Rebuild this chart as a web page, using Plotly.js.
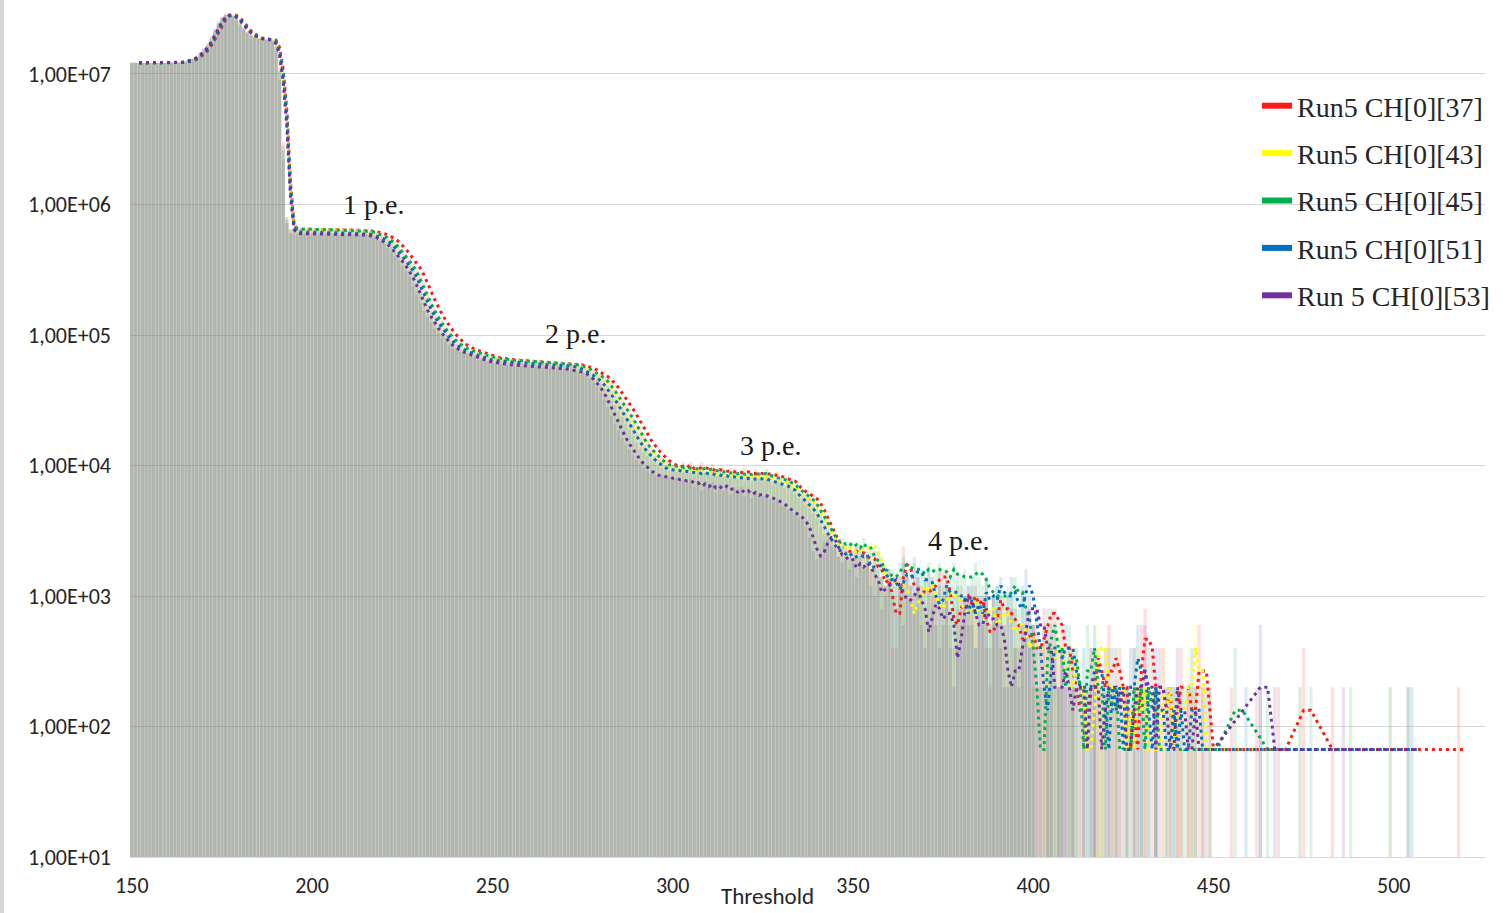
<!DOCTYPE html>
<html><head><meta charset="utf-8">
<script src="https://cdn.plot.ly/plotly-3.0.1.min.js"></script>
<style>html,body{margin:0;padding:0;background:#fff}#chart{width:1503px;height:913px}</style>
</head><body><div id="chart"></div>
<script>
// Threshold axis: one value per threshold step, starting at 150
const thresholdStart = 150;
const thresholdStep = 1;

const seriesNames = ['Run5 CH[0][37]', 'Run5 CH[0][43]', 'Run5 CH[0][45]', 'Run5 CH[0][51]', 'Run 5 CH[0][53]'];
const seriesColors = ['#ff1a1a', '#ffff00', '#00b050', '#0070c0', '#7030a0'];

const xTickVals = [150, 200, 250, 300, 350, 400, 450, 500];
const xTickText = ['150', '200', '250', '300', '350', '400', '450', '500'];
const yTickVals = [1e1, 1e2, 1e3, 1e4, 1e5, 1e6, 1e7];
const yTickText = ['1,00E+01', '1,00E+02', '1,00E+03', '1,00E+04', '1,00E+05', '1,00E+06', '1,00E+07'];

const peLabels = ['1 p.e.', '2 p.e.', '3 p.e.', '4 p.e.'];

// counts per threshold, 150 ... 520
const run5_ch37 = [
1.22e7,1.22e7,1.21e7,1.22e7,1.22e7,1.22e7,1.21e7,1.22e7,1.22e7,1.22e7,1.22e7,1.23e7,1.22e7,1.23e7,1.23e7,
1.24e7,1.26e7,1.29e7,1.34e7,1.41e7,1.5e7,1.62e7,1.8e7,2.05e7,2.35e7,
2.62e7,2.8e7,2.88e7,2.85e7,2.72e7,2.52e7,2.3e7,2.14e7,2.02e7,1.94e7,
1.88e7,1.85e7,1.84e7,1.86e7,1.84e7,1.75e7,1.2e7,3e6,8e5,6.5e5,
6.45e5,6.5e5,6.45e5,6.5e5,6.45e5,6.4e5,6.45e5,6.5e5,6.4e5,6.45e5,
6.4e5,6.45e5,6.4e5,6.4e5,6.35e5,6.4e5,6.35e5,6.35e5,6.3e5,6.35e5,
6.3e5,6.25e5,6.2e5,6.1e5,6e5,5.85e5,5.7e5,5.5e5,5.2e5,4.9e5,
4.55e5,4.2e5,3.87e5,3.55e5,3.25e5,2.95e5,2.5e5,2.15e5,1.85e5,1.62e5,
1.44e5,1.3e5,1.18e5,1.08e5,1e5,9.3e4,8.8e4,8.3e4,8e4,7.8e4,
7.6e4,7.45e4,7.3e4,7.1e4,6.95e4,6.8e4,6.7e4,6.6e4,6.6e4,6.5e4,
6.5e4,6.4e4,6.4e4,6.3e4,6.4e4,6.3e4,6.2e4,6.3e4,6.2e4,6.2e4,
6.1e4,6.2e4,6.1e4,6e4,6.1e4,6e4,6e4,5.9e4,6e4,5.9e4,
5.8e4,5.7e4,5.6e4,5.4e4,5.2e4,5e4,4.8e4,4.6e4,4.3e4,3.9e4,
3.6e4,3.3e4,3e4,2.7e4,2.45e4,2.2e4,1.98e4,1.75e4,1.55e4,1.42e4,
1.32e4,1.23e4,1.15e4,1.08e4,1.04e4,1.01e4,9.9e3,9.2e3,1.06e4,9.2e3,
1.05e4,8.6e3,9.4e3,1.06e4,8.8e3,9e3,1.02e4,8.4e3,9.4e3,9.6e3,
8.2e3,9.2e3,9.6e3,8e3,8.8e3,9.6e3,8.4e3,8.2e3,9.4e3,8.8e3,
7.8e3,9.4e3,8.6e3,7.6e3,9e3,8.4e3,7e3,8.4e3,7.6e3,6.8e3,
6.6e3,6.3e3,6e3,5.9e3,5.6e3,5.2e3,4.6e3,4e3,3.4e3,3e3,
2.6e3,2.4e3,2.2e3,2.4e3,2e3,2.2e3,
2400,1800,2200,2000,1600,2200,1200,1400,1200,1400,
400,400,1400,2400,1400,1200,1000,1200,1200,800,
1200,1400,1000,1600,1600,1000,600,400,800,1200,
800,1000,800,1200,600,1000,400,200,1000,800,
1000,600,800,800,400,600,400,600,400,600,
200,400,800,600,800,800,400,600,200,400,
200,0,200,200,0,400,200,400,200,0,
600,200,200,400,0,200,0,200,0,600,
800,0,400,200,0,400,0,200,0,200,
400,0,200,200,0,600,200,0,200,0,
0,0,0,0,200,0,0,0,0,0,
0,200,0,0,0,0,0,200,0,0,
0,0,0,0,400,0,0,0,0,0,
0,0,200,0,0,0,0,0,0,0,
0,0,0,0,0,0,0,0,0,0,
0,0,0,0,0,0,0,0,0,0,
0,0,0,0,0,0,0,200,0,0
];

const run5_ch43 = [
1.22e7,1.23e7,1.22e7,1.22e7,1.21e7,1.22e7,1.22e7,1.22e7,1.23e7,1.22e7,1.22e7,1.22e7,1.23e7,1.23e7,1.24e7,
1.25e7,1.28e7,1.32e7,1.38e7,1.46e7,1.56e7,1.7e7,1.92e7,2.2e7,2.5e7,
2.75e7,2.9e7,2.92e7,2.8e7,2.62e7,2.4e7,2.2e7,2.07e7,1.98e7,1.91e7,
1.86e7,1.84e7,1.85e7,1.85e7,1.8e7,1.6e7,1e7,2.5e6,7.8e5,6.5e5,
6.5e5,6.45e5,6.5e5,6.45e5,6.4e5,6.45e5,6.4e5,6.45e5,6.4e5,6.4e5,
6.45e5,6.4e5,6.35e5,6.4e5,6.35e5,6.3e5,6.35e5,6.3e5,6.3e5,6.25e5,
6.2e5,6.1e5,6e5,5.85e5,5.7e5,5.5e5,5.2e5,4.9e5,4.55e5,4.2e5,
3.87e5,3.55e5,3.25e5,2.95e5,2.5e5,2.15e5,1.85e5,1.62e5,1.44e5,1.3e5,
1.18e5,1.08e5,1e5,9.3e4,8.8e4,8.3e4,8e4,7.8e4,7.6e4,7.45e4,
7.3e4,7.1e4,6.95e4,6.8e4,6.7e4,6.6e4,6.6e4,6.5e4,6.5e4,6.4e4,
6.4e4,6.3e4,6.4e4,6.3e4,6.2e4,6.3e4,6.2e4,6.2e4,6.1e4,6.2e4,
6.1e4,6e4,6.1e4,6e4,6e4,5.9e4,6e4,5.9e4,5.8e4,5.7e4,
5.6e4,5.4e4,5.2e4,5e4,4.8e4,4.6e4,4.3e4,3.9e4,3.6e4,3.3e4,
3e4,2.7e4,2.45e4,2.2e4,1.98e4,1.75e4,1.55e4,1.42e4,1.32e4,1.23e4,
1.15e4,1.08e4,1.02e4,9.8e3,9.5e3,9.3e3,9.4e3,9.1e3,9.5e3,8.9e3,
9.3e3,8.8e3,9.1e3,9.4e3,8.8e3,8.6e3,9e3,8.6e3,8.3e3,8.7e3,
8.4e3,8.1e3,8.5e3,8.2e3,8e3,8.5e3,8.3e3,7.9e3,8.3e3,8.1e3,
7.7e3,8.4e3,7.9e3,7.5e3,8e3,7.6e3,7.1e3,7.4e3,6.8e3,6.4e3,
6e3,5.8e3,5.5e3,5.2e3,4.9e3,4.4e3,3.9e3,3.4e3,3e3,2.7e3,
2.5e3,2.2e3,2.6e3,2.2e3,2.4e3,2e3,
2200,2600,2000,2400,2600,2200,1800,1400,1200,1600,
1200,1000,1200,1400,800,600,800,1200,1000,1400,
1000,1200,800,600,1000,1200,1000,800,1200,600,
600,1000,800,1000,400,800,1000,600,800,400,
800,1000,400,400,800,600,400,600,200,600,
400,200,600,400,200,400,600,200,0,400,
200,400,0,200,0,0,400,600,200,400,
0,200,400,0,200,0,200,0,400,0,
200,0,0,200,0,400,0,200,0,200,
200,0,400,200,600,0,200,0,0,0,
0,0,0,0,0,0,0,0,0,0,
0,0,0,0,0,0,0,0,0,0,
0,0,0,200,0,0,0,0,0,0,
0,0,0,0,0,0,0,0,0,0,
0,0,0,0,0,0,0,0,200,0,
0,0,0,0,0,0,0,0,0,0,
0,0,0,0,0,0,0,0,0,0
];

const run5_ch45 = [
1.22e7,1.22e7,1.22e7,1.21e7,1.22e7,1.22e7,1.22e7,1.21e7,1.22e7,1.22e7,1.23e7,1.22e7,1.22e7,1.23e7,1.23e7,
1.25e7,1.27e7,1.31e7,1.36e7,1.44e7,1.54e7,1.67e7,1.87e7,2.14e7,2.45e7,
2.7e7,2.85e7,2.88e7,2.8e7,2.64e7,2.43e7,2.23e7,2.09e7,1.99e7,1.92e7,
1.87e7,1.84e7,1.84e7,1.85e7,1.81e7,1.65e7,1.08e7,2.8e6,8e5,6.5e5,
6.45e5,6.5e5,6.5e5,6.45e5,6.5e5,6.45e5,6.4e5,6.45e5,6.45e5,6.4e5,
6.4e5,6.4e5,6.35e5,6.35e5,6.4e5,6.3e5,6.3e5,6.35e5,6.3e5,6.25e5,
6.25e5,6.15e5,6.05e5,5.9e5,5.75e5,5.6e5,5.35e5,5.05e5,4.7e5,4.35e5,
4e5,3.7e5,3.4e5,3.1e5,2.7e5,2.3e5,1.98e5,1.72e5,1.52e5,1.36e5,
1.23e5,1.12e5,1.03e5,9.6e4,9e4,8.5e4,8.1e4,7.9e4,7.7e4,7.5e4,
7.35e4,7.2e4,7e4,6.9e4,6.8e4,6.7e4,6.6e4,6.6e4,6.5e4,6.5e4,
6.4e4,6.4e4,6.3e4,6.4e4,6.3e4,6.2e4,6.3e4,6.2e4,6.2e4,6.1e4,
6.2e4,6.1e4,6e4,6.1e4,6e4,6e4,5.9e4,6e4,5.9e4,5.8e4,
5.7e4,5.5e4,5.3e4,5.1e4,4.9e4,4.7e4,4.5e4,4.1e4,3.7e4,3.4e4,
3.1e4,2.8e4,2.55e4,2.3e4,2.05e4,1.82e4,1.6e4,1.45e4,1.35e4,1.26e4,
1.18e4,1.11e4,1.05e4,1.01e4,9.8e3,1.02e4,9.6e3,9.9e3,9.4e3,9.7e3,
9.5e3,9.1e3,9.7e3,9.3e3,9.6e3,9.1e3,9.4e3,8.9e3,9.2e3,8.7e3,
9e3,8.6e3,8.9e3,8.5e3,8.8e3,8.4e3,8.8e3,8.4e3,8.6e3,8.9e3,
8.4e3,8.7e3,8.2e3,7.8e3,8.2e3,7.9e3,7.4e3,7.7e3,7.1e3,6.7e3,
6.3e3,6e3,5.8e3,5.5e3,5.1e3,4.6e3,4.1e3,3.6e3,3.2e3,2.8e3,
2.7e3,2.4e3,2.8e3,2.3e3,2.6e3,2.2e3,
2600,2200,2800,2000,2200,1800,1600,2000,1200,1400,
1600,1200,1800,2000,1400,1600,1800,1400,1600,1400,
1800,1400,1600,1800,1200,1600,1400,1800,1200,1400,
1600,1200,1400,1800,1400,1200,1400,800,1000,1200,
800,1000,1200,1000,1400,800,1000,600,400,200,
0,0,200,800,400,600,200,400,0,600,
400,0,200,0,600,200,400,0,200,0,
400,0,200,0,0,200,0,400,0,200,
0,400,0,200,0,0,200,0,200,0,
0,200,0,0,200,0,0,0,200,0,
0,0,0,0,0,400,0,0,0,0,
0,0,0,0,200,0,0,0,0,0,
0,0,0,0,0,0,200,0,0,0,
0,0,0,0,0,0,0,200,0,0,
0,0,0,0,0,0,0,0,0,0,
0,0,0,200,0,0,0,0,0,0,
0,0,0,0,0,0,0,0,0,0
];

const run5_ch51 = [
1.22e7,1.22e7,1.22e7,1.22e7,1.21e7,1.22e7,1.22e7,1.22e7,1.22e7,1.21e7,1.22e7,1.22e7,1.22e7,1.23e7,1.23e7,
1.24e7,1.27e7,1.3e7,1.35e7,1.43e7,1.53e7,1.66e7,1.85e7,2.1e7,2.42e7,
2.68e7,2.84e7,2.87e7,2.8e7,2.64e7,2.43e7,2.23e7,2.09e7,1.99e7,1.92e7,
1.87e7,1.84e7,1.84e7,1.85e7,1.8e7,1.62e7,1.05e7,2.6e6,7.6e5,6.2e5,
6.15e5,6.1e5,6.15e5,6.1e5,6.1e5,6.05e5,6.1e5,6.1e5,6.05e5,6.1e5,
6.05e5,6.05e5,6.1e5,6e5,6.05e5,6e5,6e5,6.05e5,5.95e5,5.95e5,
5.95e5,5.85e5,5.75e5,5.6e5,5.45e5,5.3e5,5e5,4.7e5,4.35e5,4e5,
3.7e5,3.4e5,3.1e5,2.83e5,2.4e5,2.06e5,1.78e5,1.55e5,1.38e5,1.25e5,
1.13e5,1.04e5,9.6e4,8.9e4,8.4e4,8e4,7.7e4,7.5e4,7.3e4,7.15e4,
7e4,6.8e4,6.65e4,6.5e4,6.4e4,6.35e4,6.3e4,6.3e4,6.2e4,6.2e4,
6.1e4,6.2e4,6.1e4,6.1e4,6e4,6.1e4,6e4,6e4,5.9e4,6e4,
5.9e4,5.9e4,5.8e4,5.9e4,5.8e4,5.8e4,5.7e4,5.8e4,5.6e4,5.5e4,
5.3e4,5.1e4,4.9e4,4.7e4,4.5e4,4.2e4,3.8e4,3.5e4,3.2e4,2.9e4,
2.6e4,2.35e4,2.1e4,1.88e4,1.68e4,1.5e4,1.37e4,1.27e4,1.18e4,1.11e4,
1.05e4,1e4,9.6e3,9.3e3,9.1e3,9.4e3,8.9e3,9.2e3,8.8e3,9.1e3,
8.8e3,8.5e3,9e3,8.6e3,8.9e3,8.4e3,8.7e3,8.3e3,8.5e3,8.1e3,
8.4e3,8e3,8.2e3,7.9e3,8.1e3,7.7e3,8.1e3,7.6e3,7.9e3,8.2e3,
7.6e3,8e3,7.5e3,7.1e3,7.5e3,7.2e3,6.7e3,7e3,6.4e3,6e3,
5.6e3,5.3e3,5e3,4.7e3,4.3e3,3.9e3,3.4e3,3e3,2.7e3,2.4e3,
2.3e3,2e3,2.4e3,1.9e3,2.2e3,1.8e3,
2000,2400,1600,2200,1200,1600,2200,1400,1000,1600,
1400,800,1200,1800,1400,1000,2000,1600,1000,1400,
1600,800,600,1200,1000,1400,800,1000,1400,600,
1000,600,1200,400,1000,800,1400,600,1000,1200,
1400,600,1000,1400,800,400,1200,1600,800,600,
400,200,0,200,600,400,200,400,600,200,
400,200,0,400,200,0,600,200,0,200,
0,400,0,200,0,200,400,0,600,200,
0,200,0,400,0,0,200,0,200,0,
200,0,0,400,0,0,200,0,0,0,
0,0,0,0,0,0,0,0,200,0,
0,0,200,0,0,0,0,0,0,0,
0,0,0,200,0,0,0,0,0,0,
0,0,0,0,0,0,0,0,0,0,
0,0,0,0,0,0,0,0,200,0,
0,0,0,0,200,0,0,0,0,0,
0,0,0,0,0,0,0,0,0,0
];

const run5_ch53 = [
1.22e7,1.22e7,1.22e7,1.22e7,1.22e7,1.21e7,1.22e7,1.22e7,1.22e7,1.22e7,1.22e7,1.23e7,1.22e7,1.23e7,1.24e7,
1.26e7,1.29e7,1.33e7,1.39e7,1.47e7,1.58e7,1.73e7,1.95e7,2.25e7,2.55e7,
2.76e7,2.86e7,2.85e7,2.74e7,2.56e7,2.36e7,2.18e7,2.05e7,1.96e7,1.9e7,
1.86e7,1.84e7,1.85e7,1.84e7,1.76e7,1.5e7,9e6,2.2e6,7.2e5,6e5,
6e5,5.95e5,6e5,5.95e5,6e5,5.95e5,5.9e5,5.95e5,5.9e5,5.95e5,
5.9e5,5.9e5,5.85e5,5.9e5,5.85e5,5.85e5,5.85e5,5.9e5,5.85e5,5.85e5,
5.8e5,5.7e5,5.55e5,5.4e5,5.2e5,4.95e5,4.65e5,4.3e5,4e5,3.7e5,
3.37e5,3.1e5,2.8e5,2.38e5,2.04e5,1.76e5,1.54e5,1.37e5,1.24e5,1.12e5,
1.03e5,9.5e4,8.8e4,8.4e4,7.9e4,7.6e4,7.4e4,7.2e4,7.1e4,6.9e4,
6.7e4,6.5e4,6.4e4,6.3e4,6.2e4,6.1e4,6.1e4,6e4,6e4,5.9e4,
5.9e4,5.8e4,5.9e4,5.8e4,5.8e4,5.7e4,5.8e4,5.7e4,5.7e4,5.6e4,
5.6e4,5.6e4,5.5e4,5.6e4,5.5e4,5.5e4,5.4e4,5.4e4,5.3e4,5.2e4,
5.1e4,4.9e4,4.6e4,4.3e4,4e4,3.6e4,3.2e4,2.8e4,2.4e4,2.1e4,
1.85e4,1.62e4,1.45e4,1.32e4,1.2e4,1.1e4,1.02e4,9.6e3,9.1e3,8.7e3,
8.4e3,8.2e3,8.4e3,8e3,8.2e3,7.8e3,8e3,7.6e3,7.8e3,7.4e3,
7.8e3,6.8e3,7.6e3,6.4e3,7.6e3,6.6e3,7.4e3,6.2e3,7.2e3,6.4e3,
7.2e3,6e3,6.8e3,6e3,6.8e3,5.8e3,6.6e3,5.6e3,6.4e3,5.8e3,
5.8e3,6e3,5.5e3,5.3e3,5.5e3,5e3,4.8e3,4.6e3,4.4e3,4.2e3,
4e3,3.8e3,3.4e3,2.8e3,2.2e3,1.9e3,2e3,2.6e3,3e3,2.8e3,
2.4e3,2e3,1.8e3,2.2e3,1.6e3,1.9e3,
1400,2000,1600,1800,1600,1000,1400,800,1200,1600,
1000,1400,1200,600,1000,1200,800,1400,600,400,
600,1000,1000,400,600,1200,400,200,400,800,
1000,1200,600,400,800,600,1000,400,600,800,
400,200,200,200,400,200,600,800,1000,600,
800,400,600,200,400,0,200,400,200,0,
200,400,0,200,0,400,200,0,0,400,
200,0,400,0,200,0,0,400,200,0,
600,0,0,200,400,0,0,200,0,400,
0,0,200,0,200,0,0,200,0,0,
0,0,0,0,0,0,0,0,0,0,
0,0,600,0,0,0,200,0,0,0,
0,0,0,0,0,0,0,0,0,0,
0,0,0,0,0,200,0,0,0,0,
0,0,0,0,0,0,0,0,0,0,
0,0,0,200,0,0,0,0,0,0,
0,0,0,0,0,0,0,0,0,0
];

const seriesValues = [run5_ch37, run5_ch43, run5_ch45, run5_ch51, run5_ch53];

// Excel-style "Moving average (3 periods)" trendline of each series
function movingAverage3(vals) {
  return vals.map((v, i) => {
    if (i < 2) return null;
    const m = (vals[i - 2] + vals[i - 1] + v) / 3;
    return m > 0 ? m : null;
  });
}

const FONT_SANS = "Carlito, 'Liberation Sans Narrow', 'Liberation Sans', sans-serif";
const FONT_SERIF = "'Liberation Serif', 'DejaVu Serif', serif";

function hexToRgba(hex, a) {
  const n = parseInt(hex.slice(1), 16);
  return 'rgba(' + ((n >> 16) & 255) + ',' + ((n >> 8) & 255) + ',' + (n & 255) + ',' + a + ')';
}

const traces = [];
seriesValues.forEach((vals, k) => {
  traces.push({
    type: 'bar', x0: thresholdStart, dx: thresholdStep,
    y: vals.map(v => (v > 0 ? v : null)),
    width: 0.92,
    marker: { color: hexToRgba(seriesColors[k], 0.14), line: { width: 0 } },
    showlegend: false, hoverinfo: 'skip'
  });
});
seriesValues.forEach((vals, k) => {
  traces.push({
    type: 'scatter', mode: 'lines', x0: thresholdStart, dx: thresholdStep,
    y: movingAverage3(vals), connectgaps: true,
    line: { color: seriesColors[k], width: 3, dash: '3px,4px' },
    showlegend: false, hoverinfo: 'skip'
  });
});
seriesNames.forEach((name, k) => {
  traces.push({
    type: 'scatter', mode: 'lines', x: [null], y: [null], name: name,
    legendgroup: 'g' + k,
    line: { color: seriesColors[k], width: 6 }
  });
});

const pePos = [[373, 204], [575, 333], [770, 445], [958, 540]];
const plotL = 130, plotW = 1355, plotH = 857;
const annotations = peLabels.map((t, i) => ({
  text: t, xref: 'paper', yref: 'paper',
  x: (pePos[i][0] - plotL) / plotW, y: 1 - pePos[i][1] / plotH,
  xanchor: 'center', yanchor: 'middle', showarrow: false,
  font: { family: FONT_SERIF, size: 28, color: '#1a1a1a' }
}));
annotations.push({
  text: 'Threshold', xref: 'paper', yref: 'paper',
  x: (767 - plotL) / plotW, y: 1 - 896 / plotH,
  xanchor: 'center', yanchor: 'middle', showarrow: false,
  font: { family: FONT_SANS, size: 23, color: '#262626' }
});

const layout = {
  width: 1503, height: 913,
  margin: { l: 130, r: 18, t: 0, b: 56, pad: 0 },
  paper_bgcolor: '#ffffff', plot_bgcolor: '#ffffff',
  barmode: 'overlay',
  showlegend: true,
  legend: {
    x: (1257 - plotL) / plotW, y: 1 - 81 / plotH, xanchor: 'left', yanchor: 'top',
    bgcolor: 'rgba(0,0,0,0)', traceorder: 'grouped', tracegroupgap: 8,
    font: { family: FONT_SERIF, size: 28, color: '#262626' }
  },
  xaxis: {
    range: [149.5, 525.3], tickmode: 'array', tickvals: xTickVals, ticktext: xTickText,
    showgrid: false, zeroline: false, showline: true, linecolor: '#d9d9d9', linewidth: 1,
    ticks: '', ticklabelstandoff: 9,
    tickfont: { family: FONT_SANS, size: 22, color: '#262626' }
  },
  yaxis: {
    type: 'log', range: [1, 7.567], tickmode: 'array', tickvals: yTickVals, ticktext: yTickText,
    showgrid: true, gridcolor: '#d9d9d9', gridwidth: 1, zeroline: false, showline: false,
    ticks: '', ticklabelstandoff: 18,
    tickfont: { family: FONT_SANS, size: 22, color: '#262626' }
  },
  annotations: annotations,
  shapes: [{ type: 'rect', xref: 'paper', yref: 'paper', x0: -plotL / plotW, x1: (4 - plotL) / plotW,
             y0: 1 - 913 / plotH, y1: 1, fillcolor: '#d6d6d6', line: { width: 0 }, layer: 'below' }]
};

Plotly.newPlot('chart', traces, layout, { staticPlot: true, displayModeBar: false });
</script>
</body></html>
